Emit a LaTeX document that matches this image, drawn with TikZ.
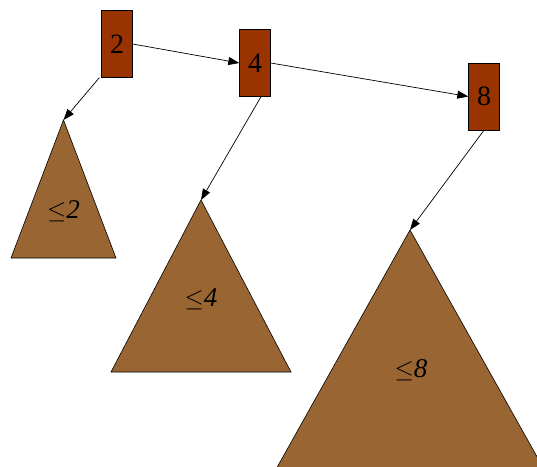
\documentclass[tikz,border=0pt]{standalone}
\usepackage{fontspec}
\setmainfont{Liberation Serif}
\usetikzlibrary{arrows.meta, positioning, calc}

\definecolor{keybrown}{HTML}{993300}
\definecolor{treebrown}{HTML}{996633}

\begin{document}
\begin{tikzpicture}[
    x=1pt, y=-1pt,
    key/.style={rectangle, draw=black, fill=keybrown, minimum width=31pt, minimum height=67pt, inner sep=0pt, font=\fontsize{28}{30}\selectfont},
    subtree/.style={draw=black, fill=treebrown, line width=0.6pt},
    bound/.style={font=\fontsize{27}{29}\selectfont\itshape},
    arrow/.style={-{Triangle[length=11pt, width=8pt]}, line width=0.7pt}
]

\useasboundingbox (0,0) rectangle (537,466);
\clip (0,0) rectangle (537,466);

% Subtrees
\coordinate (t2) at (63.5,120);
\draw[subtree] (t2) -- ++(-52.5,138) -- ++(105,0) -- cycle;
\node[bound] (l2) at (63.5,211) {$\leq$2};

\coordinate (t4) at (201,200);
\draw[subtree] (t4) -- ++(-90,172) -- ++(180,0) -- cycle;
\node[bound] (l4) at (201,299) {$\leq$4};

\coordinate (t8) at (410,230);
\draw[subtree] (t8) -- ++(-135,241) -- ++(270,0) -- cycle;
\node[bound] (l8) at (411,370) {$\leq$8};

% Keys
\node[key] (k2) at (117,44) {2};
\node[key] (k4) at (255,63) {4};
\node[key] (k8) at (484,96.5) {8};

% Pointers
\draw[arrow] (k2.east) -- (k4.west);
\draw[arrow] (k4.east) -- (k8.west);
\draw[arrow] ([xshift=-2pt]k2.south west) -- (t2);
\draw[arrow] ([xshift=6pt]k4.south) -- (t4);
\draw[arrow] (k8.south) -- (t8);

\end{tikzpicture}
\end{document}
